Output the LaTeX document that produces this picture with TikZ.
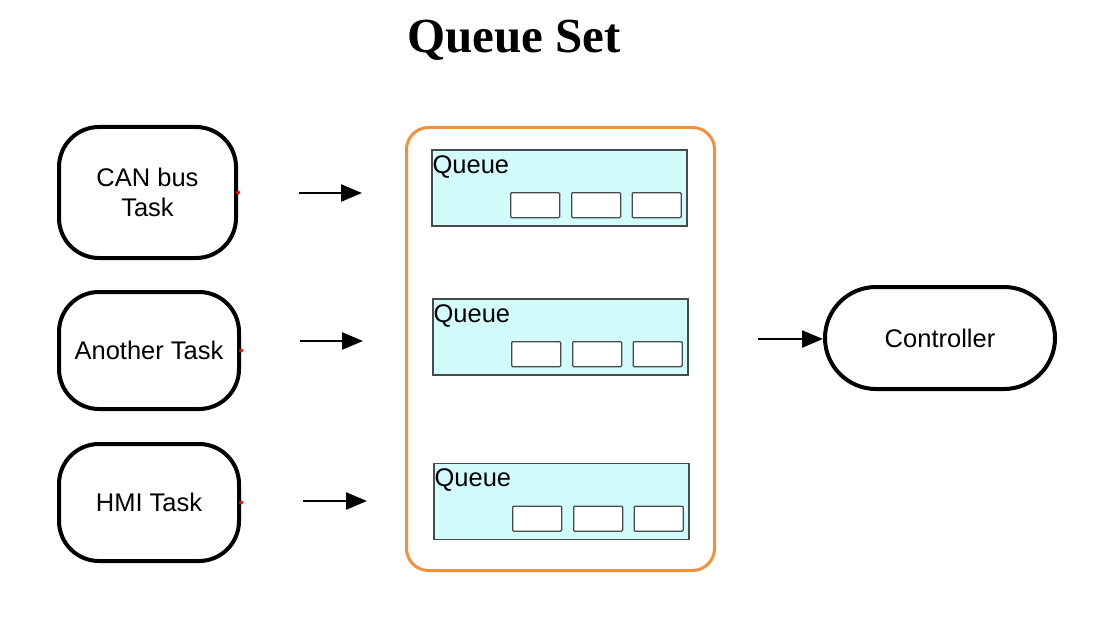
\documentclass[tikz,border=0pt]{standalone}
\usepackage{fontspec}
\setmainfont{Liberation Serif}
\newfontfamily\arial{Liberation Sans}
\usepackage{xcolor}
\usepackage{tikz}
\usetikzlibrary{arrows.meta,positioning,calc}

\definecolor{qfill}{RGB}{210,252,252}
\definecolor{qborder}{RGB}{70,75,75}
\definecolor{setorange}{RGB}{240,145,60}

\tikzset{
	task/.style={draw, line width=4pt, rounded corners=40pt, align=center,
			font=\arial\fontsize{25.5}{30}\selectfont},
	queuebox/.style={draw=qborder, line width=1.3pt, fill=qfill,
			minimum width=255pt, minimum height=76pt, inner sep=0pt},
	slot/.style={draw=qborder, line width=1.3pt, fill=white, rounded corners=1pt,
			minimum width=49pt, minimum height=25pt, inner sep=0pt},
	qlabel/.style={anchor=north west, inner xsep=1pt, inner ysep=6pt,
			font=\arial\fontsize{25.5}{30}\selectfont},
	flow/.style={line width=2.4pt, -{Triangle[length=21pt,width=17pt]}},
}

\begin{document}
\begin{tikzpicture}[x=1pt, y=-1pt]
		\useasboundingbox (0,0) rectangle (1103,623);

		\node (title) at (514,40) {\fontsize{49}{58}\selectfont\bfseries Queue Set};

		% tasks
		\node[task, minimum width=177pt, minimum height=131pt] (can) at (147.5,192.5) {CAN bus\\Task};
		\node[task, minimum width=180pt, minimum height=117pt] (another) at (149,350.5) {Another Task};
		\node[task, minimum width=180pt, minimum height=117pt] (hmi) at (149,502.5) {HMI Task};
		\foreach \t in {can,another,hmi} {
				\fill[red] (\t.east) circle (2pt);
			}

		% queue set
		\draw[setorange, line width=3pt, rounded corners=22pt] (406.5,127.5) rectangle (714.5,570.5);
		\coordinate (qset) at (560.5,349);

		\node[queuebox] (q1) at (559.5,188) {};
		\node[queuebox] (q2) at (560.5,337) {};
		\node[queuebox] (q3) at (561.5,501.5) {};
		\foreach \q in {q1,q2,q3} {
				\node[qlabel] (\q label) at (\q.north west) {Queue};
				\foreach \s/\dx in {1/-152.5, 2/-91.5, 3/-31} {
						\node[slot] (\q s\s) at ($(\q.south east)+(\dx,-21.5)$) {};
					}
			}

		% controller
		\node[task, rounded corners=51pt, minimum width=230pt, minimum height=102pt] (ctrl) at (940,338) {Controller};

		% arrows
		\coordinate (a1) at (299,193);
		\coordinate (b1) at (362,193);
		\coordinate (a2) at (300,341);
		\coordinate (b2) at (363,341);
		\coordinate (a3) at (303,501);
		\coordinate (b3) at (367,501);
		\coordinate (a4) at (758,339);
		\foreach \i in {1,2,3} {
				\draw[flow] (a\i) -- (b\i);
			}
		\draw[flow] (a4) -- (ctrl.west |- a4);
	\end{tikzpicture}
\end{document}
